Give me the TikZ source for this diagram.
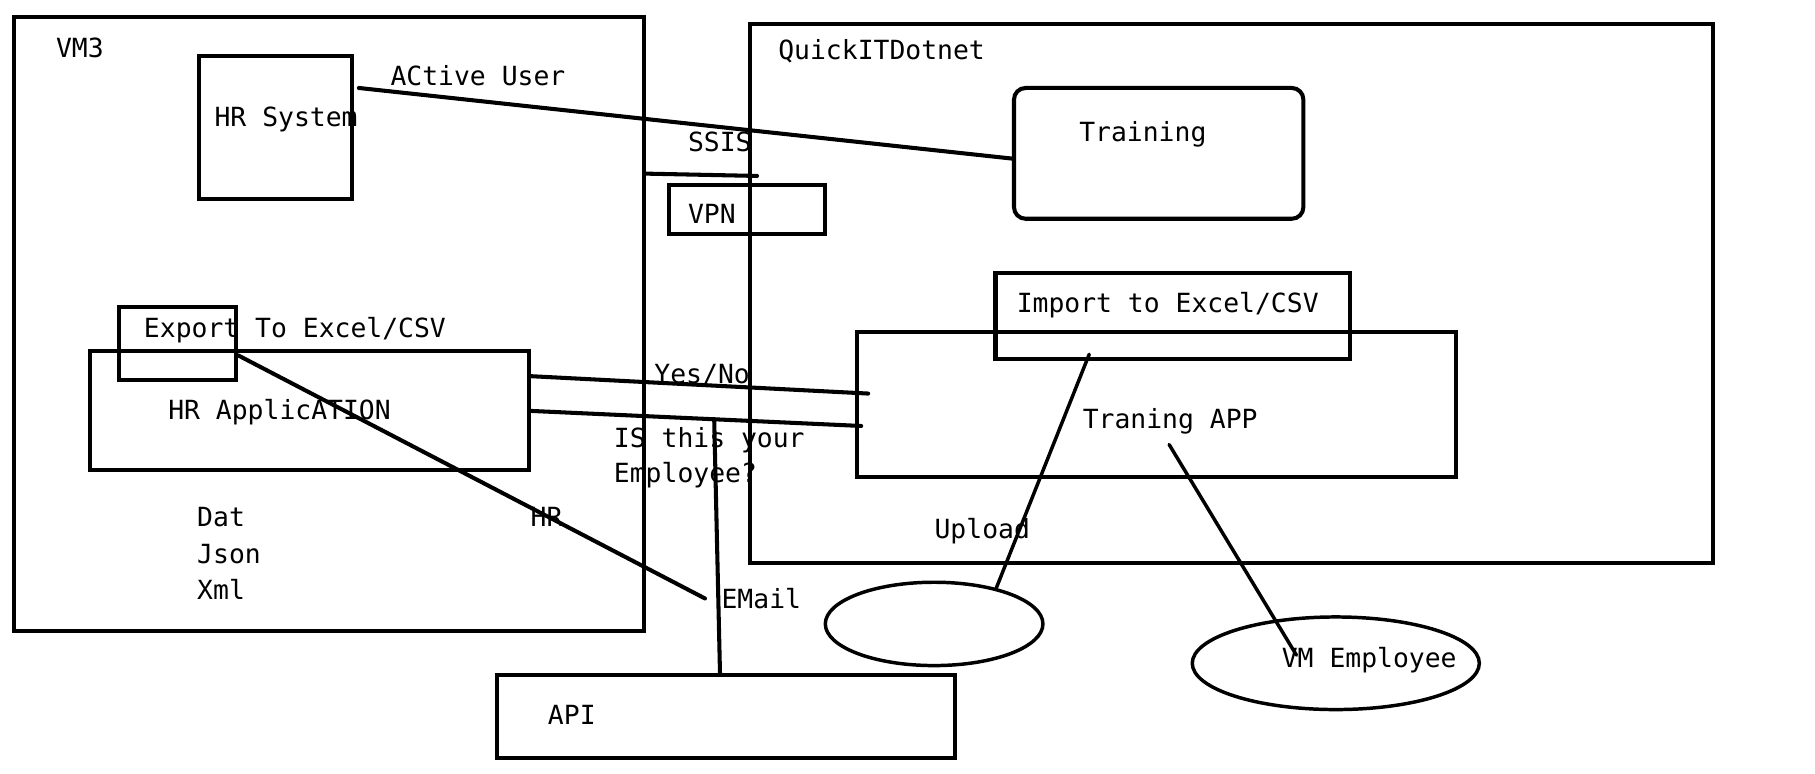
\documentclass[tikz,border=0pt]{standalone}
\usepackage{fontspec}
\setmonofont{DejaVu Sans Mono}
\usetikzlibrary{fit,shapes.geometric}
\begin{document}
\begin{tikzpicture}[x=0.5pt,y=-0.5pt,
  box/.style={draw, line width=1.75pt, inner sep=0pt},
  rbox/.style={box, rounded corners=5pt},
  lbl/.style={anchor=base west, inner sep=0pt, font=\ttfamily\fontsize{11.4}{15}\selectfont},
  conn/.style={line width=1.75pt, line cap=round},
  thin conn/.style={line width=1.5pt, line cap=round},
  oval/.style={draw, ellipse, line width=1.5pt, inner sep=0pt}]
\useasboundingbox (0,0) rectangle (1568,668);
\fill[white] (0,0) rectangle (1568,668);

% containers
\node[box, fit={(12,15) (556,545)}] (vm3) {};
\node[box, fit={(648,21) (1480,486)}] (quick) {};

% boxes
\node[box, fit={(172,48) (304,172)}] (hrsys) {};
\node[rbox, fit={(876,76) (1126,189)}] (training) {};
\node[box, fit={(578,160) (713,202)}] (vpn) {};
\node[box, fit={(740,287) (1258,412)}] (tapp) {};
\node[box, fit={(860,236) (1166,310)}] (import) {};
\node[box, fit={(78,303) (457,406)}] (hrapp) {};
\node[box, fit={(103,265) (204,328)}] (export) {};
\node[box, fit={(429,583) (825,655)}] (api) {};
\node[oval, minimum width=94pt, minimum height=36pt] (up) at (807,539) {};
\node[oval, minimum width=124pt, minimum height=40pt] (vmemp) at (1154,573) {};

% labels
\node[lbl] (tvm3) at (48,50) {VM3};
\node[lbl] (thrsys) at (185,109) {HR System};
\node[lbl] (tactive) at (337,74) {ACtive User};
\node[lbl] (tquick) at (672,51) {QuickITDotnet};
\node[lbl] (ttraining) at (932,122) {Training};
\node[lbl] (tssis) at (594,131) {SSIS};
\node[lbl] (tvpn) at (594,193) {VPN};
\node[lbl] (timport) at (878,270) {Import to Excel/CSV};
\node[lbl] (ttapp) at (935,370) {Traning APP};
\node[lbl] (texport) at (124,292) {Export To Excel/CSV};
\node[lbl] (thrapp) at (145,362) {HR ApplicATION};
\node[lbl] (tyes) at (565,331) {Yes/No};
\node[lbl] (tis) at (530,387) {IS this your};
\node[lbl] (temp) at (530,417) {Employee?};
\node[lbl] (tdat) at (170,455) {Dat};
\node[lbl] (tjson) at (170,487) {Json};
\node[lbl] (txml) at (170,518) {Xml};
\node[lbl] (thr) at (458,455) {HR};
\node[lbl] (temail) at (623,526) {EMail};
\node[lbl] (tapi) at (473,626) {API};
\node[lbl] (tupload) at (807,465) {Upload};
\node[lbl] (tvmemp) at (1107,577) {VM Employee};

% free ends
\coordinate (a1) at (310,76);
\coordinate (s1) at (654,152);
\coordinate (y2) at (750,340);
\coordinate (i2) at (744,368);
\coordinate (j1) at (617,362);
\coordinate (e2) at (609,517);
\coordinate (u1) at (941,306);
\coordinate (v1) at (1010,384);
\coordinate (v2) at (1120,566);

% connectors
\draw[conn] (a1) -- (training.west |- 0,137);
\draw[conn] (vm3.east |- 0,150) -- (s1);
\draw[conn] (hrapp.east |- 0,325) -- (y2);
\draw[conn] (hrapp.east |- 0,355) -- (i2);
\draw[conn] (j1) -- (api.north -| 622,0);
\draw[conn] (export.east |- 0,307) -- (e2);
\draw[thin conn] (u1) -- (up.30);
\draw[thin conn] (v1) -- (v2);
\end{tikzpicture}
\end{document}
